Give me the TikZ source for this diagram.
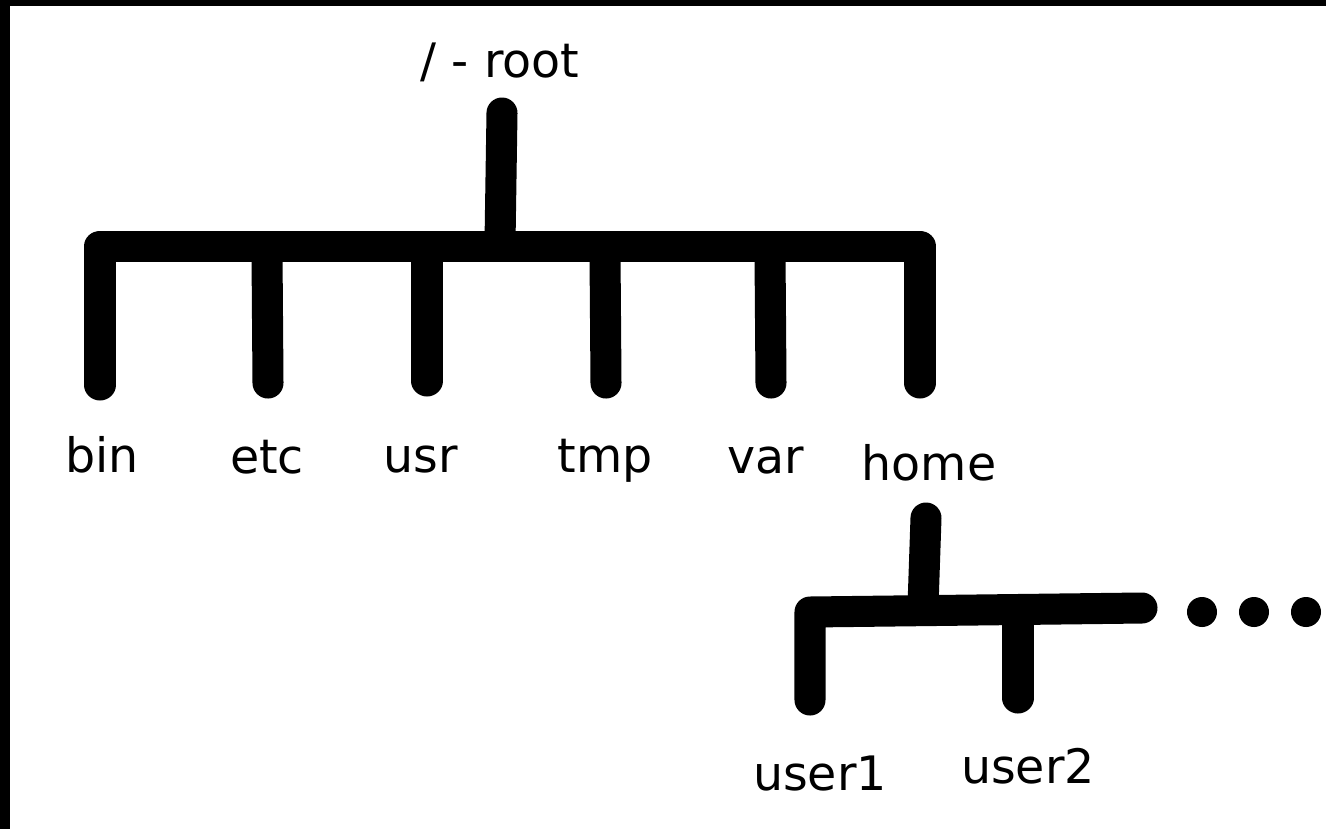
\documentclass[tikz,border=0pt]{standalone}
\usepackage{fontspec}
\setmainfont{DejaVu Sans}

\begin{document}
\begin{tikzpicture}[x=0.01cm, y=-0.01cm,
    every node/.style={font=\fontsize{13.5}{16}\selectfont, inner sep=0pt, anchor=base},
    branch/.style={line width=0.31cm, line cap=round, line join=round}]
            % Frame
            \fill[white] (0,0) rectangle (1326,829);
            \useasboundingbox (0,0) rectangle (1326,829);
            \fill[black] (0,0) rectangle (1326,6);
            \fill[black] (0,0) rectangle (10,829);

            % Labels
            \node (root) at (500,77) {/ - root};
            \node (bin) at (102,472) {bin};
            \node (etc) at (267,473) {etc};
            \node (usr) at (421,472) {usr};
            \node (tmp) at (605,472) {tmp};
            \node (var) at (766,473) {var};
            \node (home) at (929,480) {home};
            \node (user1) at (820,790) {user1};
            \node (user2) at (1028,783) {user2};

            % Joints of the first level
            \coordinate (root-top) at (502,113);
            \coordinate (root-bar) at (500,243);
            \coordinate (bin-bar) at (100,246);
            \coordinate (bin-end) at (100,385);
            \coordinate (etc-bar) at (267,252);
            \coordinate (etc-end) at (268,383);
            \coordinate (usr-bar) at (427,252);
            \coordinate (usr-end) at (427,381);
            \coordinate (tmp-bar) at (605,252);
            \coordinate (tmp-end) at (606,383);
            \coordinate (var-bar) at (770,252);
            \coordinate (var-end) at (771,383);
            \coordinate (home-bar) at (920,246);
            \coordinate (home-end) at (920,383);

            % Joints of the second level
            \coordinate (home-top) at (926,518);
            \coordinate (home-sub) at (923,606);
            \coordinate (user1-bar) at (810,612);
            \coordinate (user1-end) at (810,700);
            \coordinate (user2-bar) at (1018,614);
            \coordinate (user2-end) at (1018,698);
            \coordinate (more) at (1142,608);

            % Branches of the first level
            \draw[branch] (root-top) -- (root-bar);
            \draw[branch] (bin-end) -- (bin-bar) -- (home-bar) -- (home-end);
            \draw[branch] (etc-bar) -- (etc-end);
            \draw[branch] (usr-bar) -- (usr-end);
            \draw[branch] (tmp-bar) -- (tmp-end);
            \draw[branch] (var-bar) -- (var-end);

            % Branches of the second level
            \draw[branch] (home-top) -- (home-sub);
            \draw[branch] (user1-end) -- (user1-bar) -- (more);
            \draw[branch] (user2-bar) -- (user2-end);

            % Dots
            \foreach \i/\x in {1/1202, 2/1254, 3/1306}
                \node[circle, fill=black, minimum size=0.3cm, anchor=center] (dot-\i) at (\x,612) {};
        \end{tikzpicture}
\end{document}
